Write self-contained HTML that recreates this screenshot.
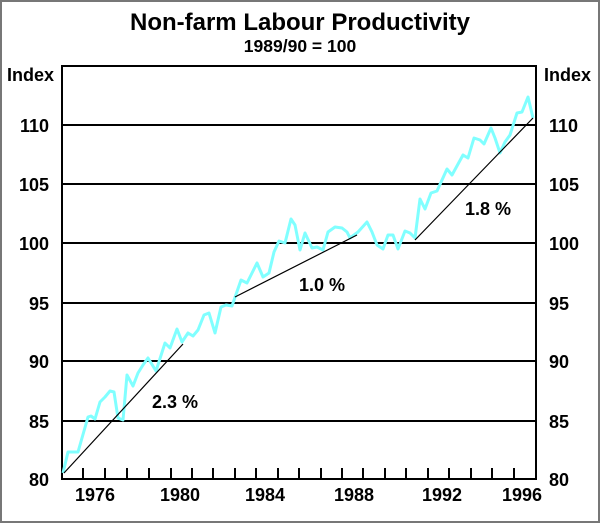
<!DOCTYPE html>
<html><head><meta charset="utf-8"><style>
body{margin:0;background:#fff}
svg{display:block;font-family:"Liberation Sans",Arial,sans-serif;font-weight:bold}
</style></head><body>
<svg width="600" height="523" viewBox="0 0 600 523" xmlns="http://www.w3.org/2000/svg">
<rect x="1" y="1" width="598" height="521" fill="#fff" stroke="#777" stroke-width="2"/>
<text x="300" y="30" text-anchor="middle" font-size="24">Non-farm Labour Productivity</text>
<text x="300" y="52" text-anchor="middle" font-size="17.5">1989/90 = 100</text>
<g stroke="#000" stroke-width="2">
<line x1="62" y1="125" x2="536" y2="125"/>
<line x1="62" y1="184" x2="536" y2="184"/>
<line x1="62" y1="243" x2="536" y2="243"/>
<line x1="62" y1="303" x2="536" y2="303"/>
<line x1="62" y1="361" x2="536" y2="361"/>
<line x1="62" y1="421" x2="536" y2="421"/>
<rect x="62" y="66" width="474" height="413" fill="none"/>
<path d="M83 479v-11M105 479v-11M127 479v-11M149 479v-11M171 479v-11M192 479v-11M213 479v-11M235 479v-11M256 479v-11M278 479v-11M299 479v-11M321 479v-11M342 479v-11M363 479v-11M385 479v-11M406 479v-11M428 479v-11M449 479v-11M471 479v-11M492 479v-11M514 479v-11"/>
</g>
<polyline fill="none" stroke="#80ffff" stroke-width="3" stroke-linejoin="round" points="63,473 68,452 78,452 88,417 91,416 95,419 100,402 105,397 110,391 114,392 118,418 123,420 127,375 133,386 138,373 143,365 148,358 156,371 165,343 170,348 177,329 182,342 188,333 193,336 198,330 204,315 209,313 215,333 221,307 226,305 232,306 241,280 247,283 252,273 257,263 263,277 269,273 274,252 279,241 285,243 291,219 295,225 300,250 305,233 312,248 317,247 323,250 328,232 335,227 342,228 347,232 350,238 358,232 367,222 372,232 377,245 383,249 388,235 393,235 398,249 405,231 410,233 415,238 420,199 425,209 431,193 437,191 447,169 452,175 463,155 468,158 474,138 480,140 484,144 491,128 495,138 500,153 505,142 510,135 517,113 522,112 528,97 533,118"/>
<g stroke="#000" stroke-width="1.2">
<line x1="64" y1="473" x2="183" y2="344"/>
<line x1="235" y1="297" x2="357" y2="235"/>
<line x1="415" y1="240" x2="533" y2="118"/>
</g>
<g font-size="18">
<text x="175" y="408" text-anchor="middle">2.3 %</text>
<text x="322" y="291" text-anchor="middle">1.0 %</text>
<text x="488" y="215" text-anchor="middle">1.8 %</text>
<text x="7" y="81">Index</text>
<text x="544" y="81">Index</text>
<g text-anchor="end">
<text x="49" y="132">110</text><text x="49" y="191">105</text><text x="49" y="250">100</text>
<text x="49" y="310">95</text><text x="49" y="368">90</text><text x="49" y="428">85</text><text x="49" y="486">80</text>
</g>
<text x="549" y="132">110</text><text x="549" y="191">105</text><text x="549" y="250">100</text>
<text x="549" y="310">95</text><text x="549" y="368">90</text><text x="549" y="428">85</text><text x="549" y="486">80</text>
<g text-anchor="middle">
<text x="95" y="501">1976</text><text x="180" y="501">1980</text><text x="265" y="501">1984</text>
<text x="354" y="501">1988</text><text x="442" y="501">1992</text><text x="522" y="501">1996</text>
</g>
</g>
</svg>
</body></html>
